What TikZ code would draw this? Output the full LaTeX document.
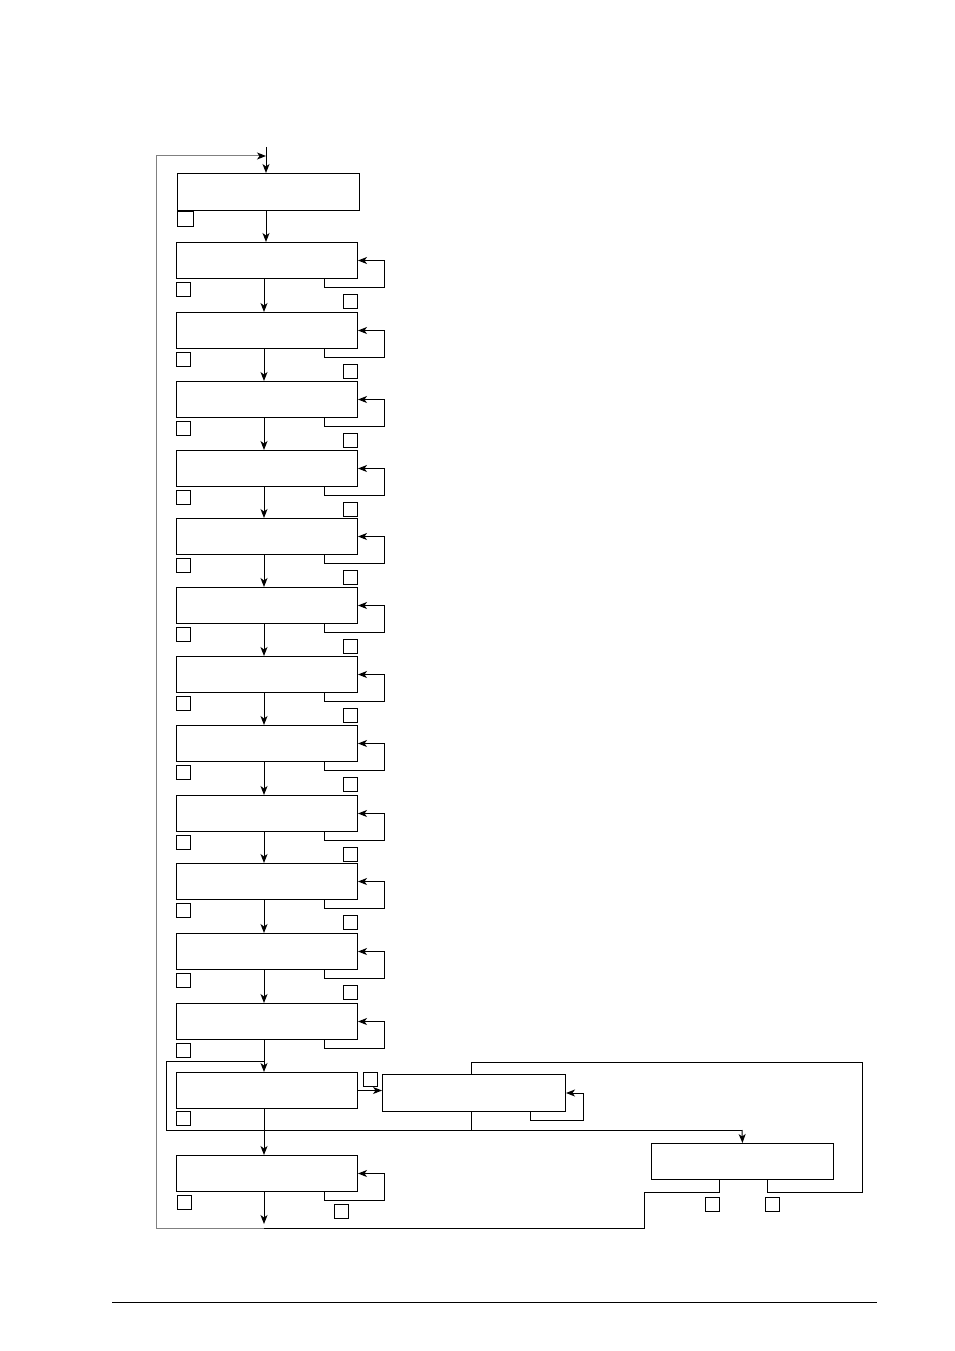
\documentclass[tikz,border=0pt]{standalone}
\usetikzlibrary{arrows.meta,calc}
\begin{document}
\begin{tikzpicture}[x=1pt,y=-1pt, line width=1pt,
 box/.style={draw, rectangle, inner sep=0pt, minimum width=181pt, minimum height=36pt, anchor=north west},
 sq/.style={draw, rectangle, inner sep=0pt, minimum width=14pt, minimum height=14pt, anchor=north west},
 arr/.style={-{Stealth[length=9pt,width=7pt,inset=2.5pt,black]}},
 fb/.style={draw=black!50}]
\useasboundingbox (0,0) rectangle (954,1351);
\coordinate (ax) at (264,0);
\coordinate (ax0) at (266,0);
\coordinate (top) at (266,147);
\coordinate (cx) at (471,0);
% first box
\node[box, minimum width=182pt, minimum height=37pt] (b1) at (177,173) {};
\node[sq, minimum width=16pt, minimum height=15pt] (s1) at (177,211) {};
% regular rows
\foreach \i/\t in {2/242,3/312,4/381,5/450,6/518,7/587,8/656,9/725,10/795,11/863,12/933,13/1003} {
 \node[box] (b\i) at (176,\t) {};
 \node[sq] (sl\i) at (176,\t+40) {};
 \draw[arr] ($(b\i.south east)+(-34,0)$) -- ++(0,8) -- ++(60,0) |- (b\i.east);
}
\foreach \i/\t in {2/242,3/312,4/381,5/450,6/518,7/587,8/656,9/725,10/795,11/863,12/933} {
 \node[sq] (sr\i) at (343,\t+52) {};
}
% row 14
\node[box] (b14) at (176,1072) {};
\node[sq] (sl14) at (176,1111) {};
\node[sq] (sa14) at (363,1072) {};
\node[box, minimum width=183pt, minimum height=37pt] (c1) at (382,1074) {};
\draw[arr] ($(c1.south east)+(-36,0)$) -- ++(0,8) -- ++(53,0) |- (c1.east);
\draw[arr] (b14.east) -- (b14.east -| c1.west);
% row 15
\node[box] (b15) at (176,1155) {};
\node[sq] (sl15) at (177,1195) {};
\node[sq] (sr15) at (334,1204) {};
\draw[arr] ($(b15.south east)+(-34,0)$) -- ++(0,8) -- ++(60,0) |- (b15.east);
% side box
\node[box, minimum width=182pt] (d) at (651,1143) {};
\node[sq] (sd1) at (705,1197) {};
\node[sq] (sd2) at (765,1197) {};
% main vertical flow
\draw[arr] (top) -- (top |- b1.north);
\draw[arr] (b1.south -| ax0) -- (b2.north -| ax0);
\foreach \i [evaluate=\i as \j using int(\i+1)] in {2,...,14} {
 \draw[arr] (b\i.south -| ax) -- (b\j.north -| ax);
}
\coordinate (e) at (264,1224);
\draw[arr] (b15.south -| ax) -- (e);
% bypass around row 14
\coordinate (j1) at (264,1061);
\coordinate (j2) at (742,1130);
\draw (j1) -| (166,1130) -- (j2);
\draw[arr] (j2) -- (d.north);
\draw (c1.north -| cx) |- (862,1062) |- ($(d.south east)+(-67,12)$) -- ($(d.south east)+(-67,0)$);
\draw (c1.south -| cx) -- (cx |- j2);
% return path
\draw ($(d.south west)+(68,0)$) -- ++(0,12) -| (644,1228) -- (264,1228);
\draw[fb, arr] (264,1228) -- (156,1228) -- (156,156) -- (top |- 0,156);
% page rule
\draw (112,1302) -- (877,1302);
\end{tikzpicture}
\end{document}
